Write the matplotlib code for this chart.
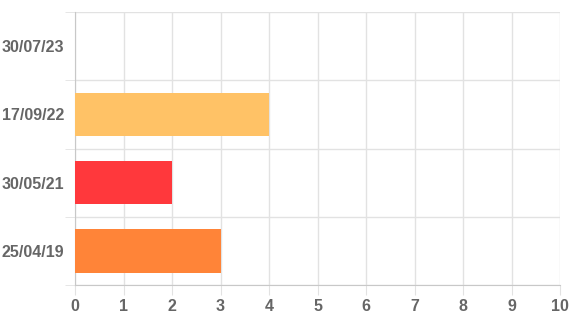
import matplotlib.pyplot as plt
import numpy as np

plt.rcParams['font.family'] = ['Liberation Sans', 'DejaVu Sans']

dates = ["25/04/19", "30/05/21", "17/09/22", "30/07/23"]
counts = [3, 2, 4, 0]
colors = ["#ff8438", "#ff383c", "#ffc266", "#ffc266"]
x_ticks = list(range(0, 11))

grid_col = "#e2e2e2"
text_col = "#666666"

fig = plt.figure(figsize=(5.71, 3.17), dpi=100)
ax = fig.add_axes([75 / 571, 32 / 317, 485 / 571, 273 / 317])

pos = np.arange(len(dates))
ax.barh(pos, counts, height=0.64, color=colors, zorder=3)

ax.set_xlim(0, 10)
ax.set_ylim(-0.5, len(dates) - 0.5)
ax.set_xticks(x_ticks)
ax.set_yticks(pos)
ax.set_yticklabels(dates)
ax.set_yticks(np.arange(-0.5, len(dates)), minor=True)

ax.grid(axis="x", color=grid_col, linewidth=1, zorder=0)
ax.grid(axis="y", which="minor", color=grid_col, linewidth=1, zorder=0)

ax.tick_params(axis="x", length=7, color=grid_col, labelsize=11.5,
               labelcolor=text_col, pad=3)
ax.tick_params(axis="y", which="major", length=0, labelsize=11.5,
               labelcolor=text_col, pad=8)
ax.tick_params(axis="y", which="minor", length=7, color=grid_col)
for lab in ax.get_xticklabels() + ax.get_yticklabels():
    lab.set_fontweight("bold")

for side in ["top", "right"]:
    ax.spines[side].set_visible(False)
ax.spines["left"].set_color("#c8c8c8")
ax.spines["bottom"].set_color("#c8c8c8")

fig.savefig("out.png", dpi=100)
